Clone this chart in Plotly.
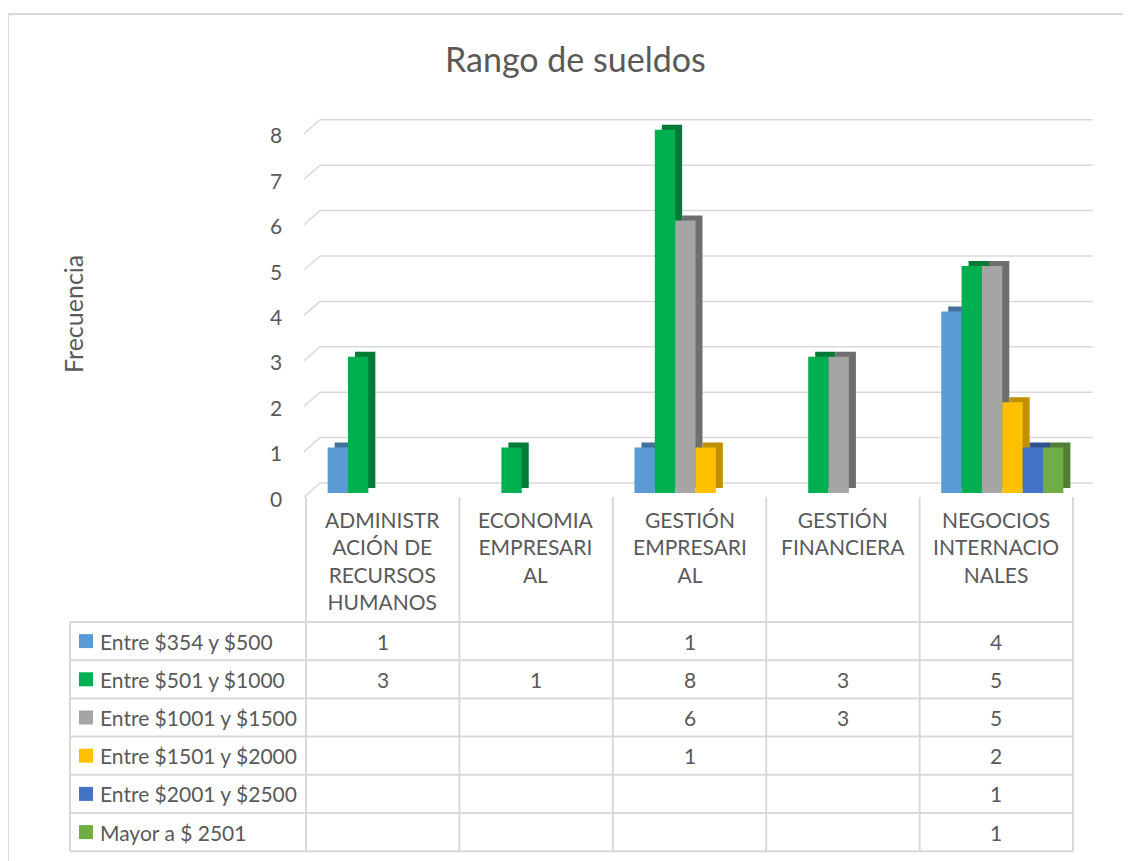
import plotly.graph_objects as go

categories = [
    "ADMINISTRACIÓN DE RECURSOS HUMANOS",
    "ECONOMIA EMPRESARIAL",
    "GESTIÓN EMPRESARIAL",
    "GESTIÓN FINANCIERA",
    "NEGOCIOS INTERNACIONALES",
]
# wrapped the way the chart shows them
category_labels = [
    "ADMINISTR<br>ACIÓN DE<br>RECURSOS<br>HUMANOS",
    "ECONOMIA<br>EMPRESARI<br>AL",
    "GESTIÓN<br>EMPRESARI<br>AL",
    "GESTIÓN<br>FINANCIERA",
    "NEGOCIOS<br>INTERNACIO<br>NALES",
]
series_names = [
    "Entre $354 y $500",
    "Entre $501 y $1000",
    "Entre $1001 y $1500",
    "Entre $1501 y $2000",
    "Entre $2001 y $2500",
    "Mayor a $ 2501",
]
entre_354_500 = [1, None, 1, None, 4]
entre_501_1000 = [3, 1, 8, 3, 5]
entre_1001_1500 = [None, None, 6, 3, 5]
entre_1501_2000 = [None, None, 1, None, 2]
entre_2001_2500 = [None, None, None, None, 1]
mayor_2501 = [None, None, None, None, 1]
series_values = [entre_354_500, entre_501_1000, entre_1001_1500,
                 entre_1501_2000, entre_2001_2500, mayor_2501]
y_ticks = [0, 1, 2, 3, 4, 5, 6, 7, 8]

colors = ["#5B9BD5", "#00B050", "#A5A5A5", "#FFC000", "#4472C4", "#70AD47"]
side_colors = ["#41719C", "#007A37", "#6E6E6E", "#BF9000", "#2F528F", "#507E32"]

FONT = "Lato"
TXT = "#595959"
LINE = "#D9D9D9"

# page has an 8px body margin, so the figure is a bit smaller than the window
BODY = 8
W, H = 1131 - BODY, 861 - BODY
# geometry below is in window pixels
PL, PR, PT, PB = 296, 1100, 100, 500   # plot area
CAT0, CAT_W = 306, 153.4              # left edge of first category, width
Y0, U = 493, 45.4                     # pixel of value 0, pixels per unit

x_range = [-0.5 - (CAT0 - PL) / CAT_W, -0.5 + (PR - CAT0) / CAT_W]
y_range = [-(PB - Y0) / U, (Y0 - PT) / U]


def px_x(p):
    return (p - PL) / (PR - PL)


def px_y(p):
    return (PB - p) / (PB - PT)


n = len(series_names)
bar_w = 20.35 / CAT_W
start = -0.5 + (1 - n * bar_w) / 2 + 6 / CAT_W
depth_x = 7 / CAT_W
depth_y = 5 / U

fig = go.Figure()

# depth faces first, fronts drawn on top
for k in range(n):
    fig.add_trace(go.Bar(
        x=categories, y=series_values[k], base=depth_y,
        offset=start + k * bar_w + depth_x, width=bar_w,
        marker=dict(color=side_colors[k], line=dict(width=0)),
        showlegend=False, hoverinfo="skip",
    ))
for k in range(n):
    fig.add_trace(go.Bar(
        x=categories, y=series_values[k], name=series_names[k],
        offset=start + k * bar_w, width=bar_w,
        marker=dict(color=colors[k], line=dict(width=0)),
        showlegend=False,
    ))

shapes = []
# chart border
shapes.append(dict(type="line", xref="paper", yref="paper",
                   x0=px_x(8), x1=px_x(1131), y0=px_y(14), y1=px_y(14),
                   line=dict(color=LINE, width=2)))
shapes.append(dict(type="line", xref="paper", yref="paper",
                   x0=px_x(8), x1=px_x(8), y0=px_y(14), y1=px_y(861),
                   line=dict(color=LINE, width=2)))

# back wall gridlines with the short perspective segment
for t in y_ticks:
    shapes.append(dict(type="line", xref="paper", yref="y", layer="below",
                       x0=px_x(320), x1=px_x(1093), y0=t + 10 / U, y1=t + 10 / U,
                       line=dict(color=LINE, width=1.5)))
    shapes.append(dict(type="line", xref="paper", yref="y", layer="below",
                       x0=px_x(304), x1=px_x(320), y0=t - 4 / U, y1=t + 10 / U,
                       line=dict(color=LINE, width=1.5)))

annotations = []
for t in y_ticks:
    annotations.append(dict(x=px_x(284), y=t, xref="paper", yref="y", yshift=-5,
                            text=str(t), showarrow=False,
                            xanchor="right", yanchor="middle",
                            font=dict(family=FONT, size=21, color=TXT)))

# data table
ROW_TOP, ROW_H = 622, 38.2
row_edges = [ROW_TOP + ROW_H * r for r in range(n + 1)]
table_right = CAT0 + CAT_W * len(categories)
for yy in row_edges:
    shapes.append(dict(type="line", xref="paper", yref="paper",
                       x0=px_x(70), x1=px_x(table_right), y0=px_y(yy), y1=px_y(yy),
                       line=dict(color=LINE, width=2)))
shapes.append(dict(type="line", xref="paper", yref="paper",
                   x0=px_x(70), x1=px_x(70), y0=px_y(ROW_TOP), y1=px_y(row_edges[-1]),
                   line=dict(color=LINE, width=2)))
for i in range(len(categories) + 1):
    shapes.append(dict(type="line", xref="x", yref="paper",
                       x0=i - 0.5, x1=i - 0.5, y0=px_y(497), y1=px_y(row_edges[-1]),
                       line=dict(color=LINE, width=2)))

for i, lab in enumerate(category_labels):
    annotations.append(dict(x=i, y=px_y(505), xref="x", yref="paper",
                            text=lab, showarrow=False, xanchor="center", yanchor="top",
                            align="center", font=dict(family=FONT, size=21, color=TXT)))

for k in range(n):
    yc = ROW_TOP + ROW_H * (k + 0.5)
    shapes.append(dict(type="rect", xref="paper", yref="paper",
                       x0=px_x(79), x1=px_x(93), y0=px_y(yc - 7), y1=px_y(yc + 7),
                       fillcolor=colors[k], line=dict(width=0)))
    annotations.append(dict(x=px_x(98), y=px_y(yc), xref="paper", yref="paper",
                            text=series_names[k], showarrow=False,
                            xanchor="left", yanchor="middle",
                            font=dict(family=FONT, size=21, color=TXT)))
    for i, v in enumerate(series_values[k]):
        if v is None:
            continue
        annotations.append(dict(x=i, y=px_y(yc), xref="x", yref="paper",
                                text=str(v), showarrow=False,
                                xanchor="center", yanchor="middle",
                                font=dict(family=FONT, size=21, color=TXT)))

annotations.append(dict(x=px_x(575), y=px_y(58), xref="paper", yref="paper",
                        text="Rango de sueldos", showarrow=False,
                        xanchor="center", yanchor="middle",
                        font=dict(family=FONT, size=34, color=TXT)))
annotations.append(dict(x=px_x(73), y=px_y(314), xref="paper", yref="paper",
                        text="Frecuencia", showarrow=False, textangle=-90,
                        xanchor="center", yanchor="middle",
                        font=dict(family=FONT, size=25, color=TXT)))

fig.update_layout(
    width=W, height=H,
    margin=dict(l=PL - BODY, r=W - (PR - BODY), t=PT - BODY, b=H - (PB - BODY)),
    barmode="overlay",
    paper_bgcolor="white", plot_bgcolor="white",
    font=dict(family=FONT, color=TXT),
    xaxis=dict(range=x_range, showticklabels=False, showgrid=False,
               zeroline=False, showline=False, ticks=""),
    yaxis=dict(range=y_range, tickvals=y_ticks, showticklabels=False,
               showgrid=False, zeroline=False, showline=False, ticks=""),
    shapes=shapes,
    annotations=annotations,
)

fig.write_html("out.html")
